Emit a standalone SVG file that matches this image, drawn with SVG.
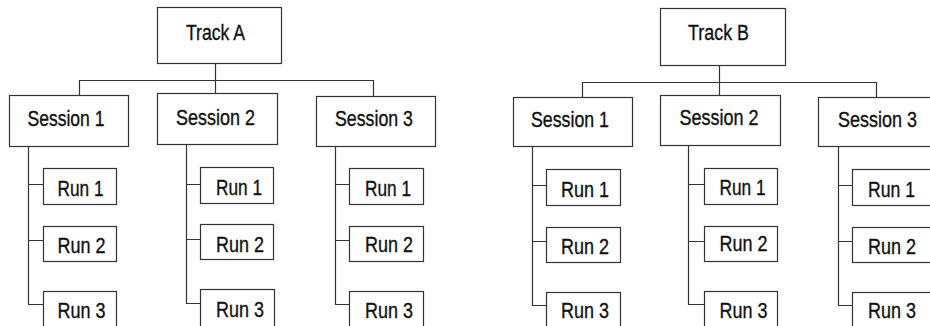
<svg xmlns="http://www.w3.org/2000/svg" width="930" height="326" viewBox="0 0 930 326">
  <style>
    .box { fill: #ffffff; stroke: #333333; stroke-width: 1.2; }
    .wire { fill: none; stroke: #333333; stroke-width: 1.2; }
    text { font-family: "Liberation Sans", Arial, sans-serif; font-size: 22px; fill: #111111; stroke: #111111; stroke-width: 0.35; }
  </style>
  <rect width="930" height="326" fill="#ffffff"/>

  <!-- connectors -->
  <g id="connectors" class="wire">
    <!-- Track A tree -->
    <path d="M215.5 63 V93 M79.5 95 V80.5 H373.5 V96"/>
    <path d="M28.5 146 V304.5 H43 M28.5 184.5 H43 M28.5 240.5 H43"/>
    <path d="M186.5 144 V303.5 H200 M186.5 184.5 H200 M186.5 239.5 H200"/>
    <path d="M335.5 146 V304.5 H349 M335.5 184.5 H349 M335.5 240.5 H349"/>
    <!-- Track B tree -->
    <path d="M719.5 65 V95 M582.5 97 V82.5 H876.5 V97"/>
    <path d="M532.5 146 V305.5 H546 M532.5 185.5 H546 M532.5 241.5 H546"/>
    <path d="M688.5 145 V304.5 H704 M688.5 184.5 H704 M688.5 241.5 H704"/>
    <path d="M838.5 146 V305.5 H852 M838.5 185.5 H852 M838.5 241.5 H852"/>
  </g>

  <!-- Track A -->
  <g id="trackA"><rect class="box" x="157.5" y="7.5" width="124" height="56"/><text x="186" y="39.5" textLength="59" lengthAdjust="spacingAndGlyphs">Track A</text></g>
  <g id="trackA-s1"><rect class="box" x="9.5" y="95.5" width="119" height="51"/><text x="27.5" y="126" textLength="77" lengthAdjust="spacingAndGlyphs">Session 1</text></g>
  <g id="trackA-s2"><rect class="box" x="157.5" y="93.5" width="120" height="51"/><text x="176" y="124.5" textLength="79" lengthAdjust="spacingAndGlyphs">Session 2</text></g>
  <g id="trackA-s3"><rect class="box" x="316.5" y="96.5" width="119" height="50"/><text x="335" y="126" textLength="78" lengthAdjust="spacingAndGlyphs">Session 3</text></g>

  <g id="trackA-s1-r1"><rect class="box" x="43.5" y="168.5" width="73" height="36"/><text x="57.5" y="196" textLength="46" lengthAdjust="spacingAndGlyphs">Run 1</text></g>
  <g id="trackA-s1-r2"><rect class="box" x="43.5" y="226.5" width="73" height="35"/><text x="57.5" y="252.5" textLength="48" lengthAdjust="spacingAndGlyphs">Run 2</text></g>
  <g id="trackA-s1-r3"><rect class="box" x="43.5" y="291.5" width="73" height="40"/><text x="57.5" y="317.5" textLength="48" lengthAdjust="spacingAndGlyphs">Run 3</text></g>

  <g id="trackA-s2-r1"><rect class="box" x="200.5" y="167.5" width="73" height="36"/><text x="216" y="195" textLength="46" lengthAdjust="spacingAndGlyphs">Run 1</text></g>
  <g id="trackA-s2-r2"><rect class="box" x="200.5" y="224.5" width="73" height="35"/><text x="216" y="251.5" textLength="48" lengthAdjust="spacingAndGlyphs">Run 2</text></g>
  <g id="trackA-s2-r3"><rect class="box" x="200.5" y="289.5" width="74" height="42"/><text x="216" y="316.5" textLength="48" lengthAdjust="spacingAndGlyphs">Run 3</text></g>

  <g id="trackA-s3-r1"><rect class="box" x="349.5" y="168.5" width="74" height="36"/><text x="365" y="196" textLength="46" lengthAdjust="spacingAndGlyphs">Run 1</text></g>
  <g id="trackA-s3-r2"><rect class="box" x="349.5" y="226.5" width="74" height="35"/><text x="365" y="252" textLength="48" lengthAdjust="spacingAndGlyphs">Run 2</text></g>
  <g id="trackA-s3-r3"><rect class="box" x="349.5" y="291.5" width="74" height="40"/><text x="365" y="317.5" textLength="48" lengthAdjust="spacingAndGlyphs">Run 3</text></g>

  <!-- Track B -->
  <g id="trackB"><rect class="box" x="660.5" y="8.5" width="125" height="57"/><text x="688" y="40" textLength="61" lengthAdjust="spacingAndGlyphs">Track B</text></g>
  <g id="trackB-s1"><rect class="box" x="513.5" y="97.5" width="119" height="49"/><text x="531" y="126.5" textLength="78" lengthAdjust="spacingAndGlyphs">Session 1</text></g>
  <g id="trackB-s2"><rect class="box" x="660.5" y="95.5" width="120" height="50"/><text x="679.5" y="125" textLength="79" lengthAdjust="spacingAndGlyphs">Session 2</text></g>
  <g id="trackB-s3"><rect class="box" x="818.5" y="97.5" width="125" height="49"/><text x="838" y="126.5" textLength="79" lengthAdjust="spacingAndGlyphs">Session 3</text></g>

  <g id="trackB-s1-r1"><rect class="box" x="546.5" y="169.5" width="74" height="36"/><text x="561" y="196.5" textLength="48" lengthAdjust="spacingAndGlyphs">Run 1</text></g>
  <g id="trackB-s1-r2"><rect class="box" x="546.5" y="227.5" width="74" height="35"/><text x="561" y="254" textLength="48" lengthAdjust="spacingAndGlyphs">Run 2</text></g>
  <g id="trackB-s1-r3"><rect class="box" x="546.5" y="292.5" width="74" height="40"/><text x="561" y="317.5" textLength="48" lengthAdjust="spacingAndGlyphs">Run 3</text></g>

  <g id="trackB-s2-r1"><rect class="box" x="704.5" y="168.5" width="73" height="36"/><text x="719.5" y="195" textLength="46" lengthAdjust="spacingAndGlyphs">Run 1</text></g>
  <g id="trackB-s2-r2"><rect class="box" x="704.5" y="226.5" width="73" height="35"/><text x="719.5" y="251" textLength="48" lengthAdjust="spacingAndGlyphs">Run 2</text></g>
  <g id="trackB-s2-r3"><rect class="box" x="704.5" y="291.5" width="73" height="40"/><text x="719.5" y="317.5" textLength="48" lengthAdjust="spacingAndGlyphs">Run 3</text></g>

  <g id="trackB-s3-r1"><rect class="box" x="852.5" y="169.5" width="80" height="36"/><text x="868" y="196.5" textLength="47" lengthAdjust="spacingAndGlyphs">Run 1</text></g>
  <g id="trackB-s3-r2"><rect class="box" x="852.5" y="227.5" width="80" height="35"/><text x="868" y="254" textLength="48" lengthAdjust="spacingAndGlyphs">Run 2</text></g>
  <g id="trackB-s3-r3"><rect class="box" x="852.5" y="292.5" width="80" height="40"/><text x="868" y="318" textLength="48" lengthAdjust="spacingAndGlyphs">Run 3</text></g>
</svg>
